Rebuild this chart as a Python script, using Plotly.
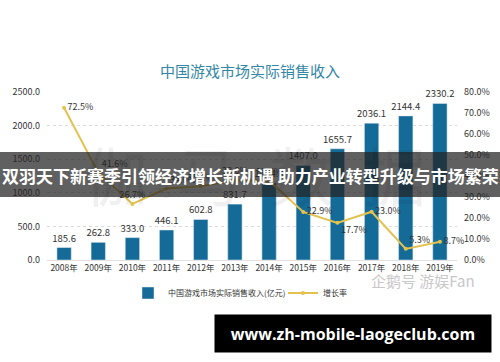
import plotly.graph_objects as go

years = ["2008年", "2009年", "2010年", "2011年", "2012年", "2013年", "2014年",
         "2015年", "2016年", "2017年", "2018年", "2019年"]
revenue = [185.6, 262.8, 333.0, 446.1, 602.8, 831.7, 1144.8, 1407.0, 1655.7, 2036.1, 2144.4, 2330.2]
growth = [72.5, 41.6, 26.7, 34.0, 35.1, 38.0, 37.7, 22.9, 17.7, 23.0, 5.3, 8.7]
growth_pos = ["middle right", "top right", "top center", "top right", "top center", "top center",
              "top center", "middle right", "bottom right", "middle right", "top right", "middle right"]

left_ticks = [0, 500, 1000, 1500, 2000, 2500]
right_ticks = [0, 10, 20, 30, 40, 50, 60, 70, 80]

BAR = "#156b97"
LINE = "#e3c24f"
FONT = "Noto Sans CJK SC"

W, H = 500, 362
L, R, T, B = 47, 43, 92, 102
pw, ph = W - L - R, H - T - B

def px(x):
    return (x - L) / pw

def py(y):
    return (H - B - y) / ph

fig = go.Figure()
fig.add_trace(go.Bar(
    x=years, y=revenue, name="中国游戏市场实际销售收入(亿元)",
    marker_color=BAR, width=0.42, legend="legend", showlegend=True,
    text=[f"{v:.1f}" for v in revenue], textposition="outside", constraintext="none",
    textfont=dict(size=9.5, color="#333", family=FONT), cliponaxis=False,
))
fig.add_trace(go.Scatter(
    x=years, y=growth, name="增长率", yaxis="y2", mode="lines+markers+text", legend="legend2",
    showlegend=True,
    line=dict(color=LINE, width=2), marker=dict(color=LINE, size=4),
    text=[f"{v:.1f}%" for v in growth], textposition=growth_pos,
    textfont=dict(size=9, color="#333", family=FONT), cliponaxis=False,
))

fig.update_layout(
    width=W, height=H, autosize=False, margin=dict(l=L, r=R, t=T, b=B, autoexpand=False),
    showlegend=True,
    plot_bgcolor="white", paper_bgcolor="white",
    font=dict(family=FONT, size=9, color="#444"),
    title=dict(text="中国游戏市场实际销售收入", x=0.5, xanchor="center", y=1 - 72 / H, yanchor="middle",
               font=dict(size=15, color="#3287a6", family=FONT)),
    xaxis=dict(range=[-0.5, 11.5], showgrid=False, showline=True, linecolor="#e2e2e2", ticks="",
               tickfont=dict(size=8.5, color="#333")),
    yaxis=dict(range=[0, 2500], tickvals=left_ticks, ticktext=[f"{v:.1f}" for v in left_ticks],
               showgrid=True, gridcolor="#dcdcdc", griddash="dot", zeroline=False, ticklabelstandoff=6,
               tickfont=dict(size=9, color="#333")),
    yaxis2=dict(range=[0, 80], tickvals=right_ticks, ticktext=[f"{v:.1f}%" for v in right_ticks],
                overlaying="y", side="right", showgrid=False, zeroline=False, ticklabelstandoff=6,
                tickfont=dict(size=9, color="#333")),
    legend=dict(orientation="h", x=px(128), y=py(293), xanchor="left", yanchor="middle",
                font=dict(size=8, color="#333"), bgcolor="rgba(0,0,0,0)", itemwidth=30, visible=True),
    legend2=dict(orientation="h", x=px(283), y=py(293), xanchor="left", yanchor="middle",
                 font=dict(size=8, color="#333"), bgcolor="rgba(0,0,0,0)", itemwidth=30, visible=True),
    bargap=0.58,
)

# watermark texts
fig.add_annotation(text="伽  马  数  据", xref="paper", yref="paper", x=px(255), y=py(125), xanchor="center",
                   showarrow=False, font=dict(size=64, color="rgba(0,0,0,0.06)", family=FONT))
fig.add_annotation(text="微  信  号", xref="paper", yref="paper", x=px(135), y=py(205), xanchor="center",
                   showarrow=False, font=dict(size=20, color="rgba(0,0,0,0.07)", family=FONT))
fig.add_annotation(text="企鹅号 游娱Fan", xref="paper", yref="paper", x=px(423), y=py(293), xanchor="center",
                   showarrow=False, font=dict(size=15, color="#c8c8c8", family=FONT))

# overlay banner
fig.add_shape(type="rect", xref="paper", yref="paper", x0=px(-2), x1=px(502), y0=py(197), y1=py(152),
              fillcolor="rgba(35,35,35,0.72)", line_width=0, layer="above")
fig.add_annotation(text="<b>双羽天下新赛季引领经济增长新机遇 助力产业转型升级与市场繁荣</b>", xref="paper", yref="paper",
                   x=px(250), y=py(175), xanchor="center", showarrow=False,
                   font=dict(size=17, color="white", family=FONT))
fig.add_annotation(text="<b>www.zh-mobile-laogeclub.com</b>", xref="paper", yref="paper",
                   x=px(353), y=py(333.5), xanchor="center", yanchor="middle", showarrow=False,
                   width=270, height=31, bgcolor="black", borderpad=3,
                   font=dict(size=16, color="white", family="Open Sans"))

fig.write_html("out.html", config={"responsive": False, "displayModeBar": False},
               post_script="document.body.style.margin='0';document.body.style.overflow='hidden';")
